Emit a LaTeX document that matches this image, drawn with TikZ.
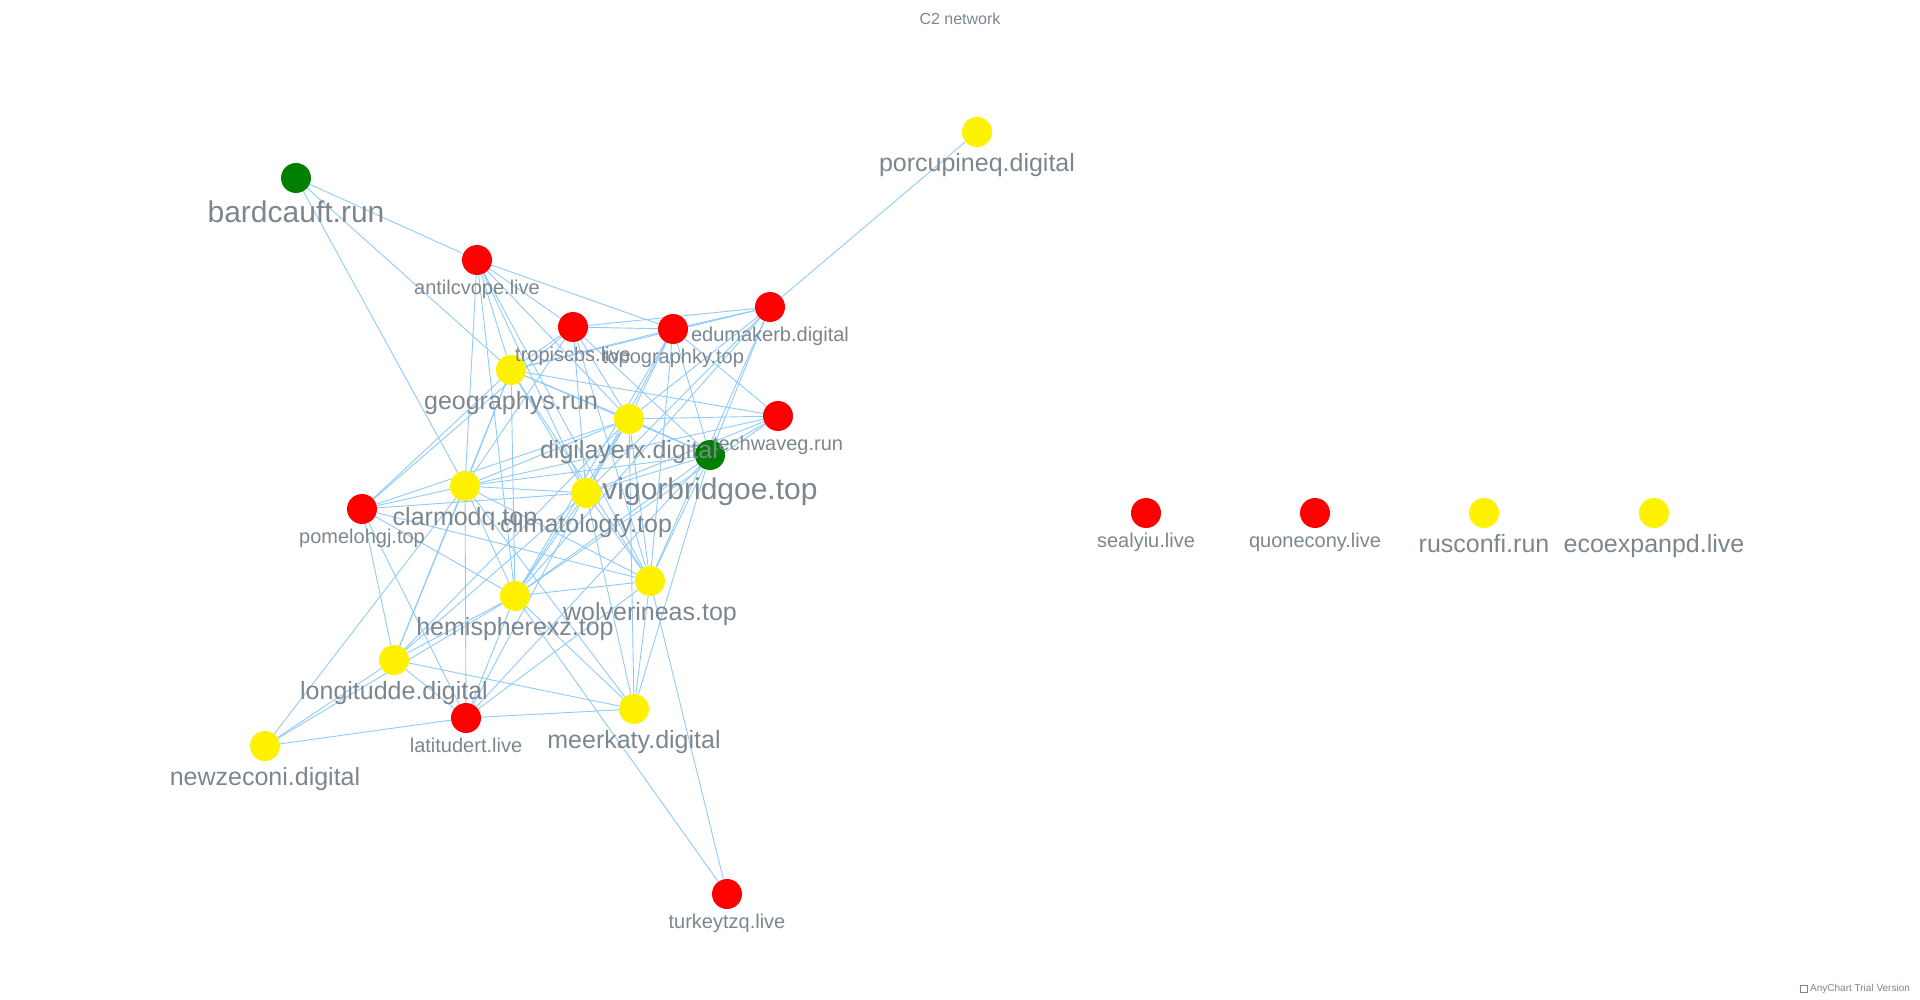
\documentclass[tikz,border=0pt]{standalone}
\usepackage{fontspec}
\setmainfont{Liberation Sans}
\usetikzlibrary{backgrounds}
\definecolor{lblgray}{HTML}{7C868E}
\definecolor{edgeblue}{HTML}{90CAF9}
\definecolor{dgreen}{HTML}{008000}

\tikzset{
	dot/.style={circle, fill=#1, minimum size=30pt, inner sep=0pt},
	lbl/.style={anchor=north, inner sep=0pt, text=lblgray, text height=0.75em, text depth=0.2em},
	lblS/.style={lbl, font=\fontsize{20}{20}\selectfont, yshift=-12pt},
	lblM/.style={lbl, font=\fontsize{25}{25}\selectfont, yshift=-17pt},
	lblL/.style={lbl, font=\fontsize{30}{30}\selectfont, yshift=-22pt},
	edge/.style={draw=edgeblue, line width=0.9pt}
}

\begin{document}
\begin{tikzpicture}[x=1pt,y=-1pt]
	\useasboundingbox (0,0) rectangle (1920,1000);
	\node[text=lblgray, font=\fontsize{16}{16}\selectfont] (title) at (960,19) {C2 network};
	% domains
	\foreach \n/\x/\y/\c in {bar/296/178/dgreen, por/977/132/yellow, ant/477/260/red,
		tro/573/327/red, topo/673/329/red, edu/770/307/red, geo/511/370/yellow,
		dig/629/419/yellow, tec/778/416/red, vig/710/455/dgreen, cla/465/486/yellow,
		cli/586/493/yellow, pom/362/509/red, hem/515/596/yellow, wol/650/581/yellow,
		lon/394/660/yellow, lat/466/718/red, mee/634/709/yellow, new/265/746/yellow,
		tur/727/894/red, sea/1146/513/red, quo/1315/513/red, rus/1484/513/yellow,
		eco/1654/513/yellow}
		\node[dot=\c] (\n) at (\x,\y) {};
	% labels on top of every dot
	\foreach \n/\s/\t in {bar/lblL/bardcauft.run, por/lblM/porcupineq.digital,
		ant/lblS/antilcvope.live, tro/lblS/tropiscbs.live, topo/lblS/topographky.top,
		edu/lblS/edumakerb.digital, geo/lblM/geographys.run, dig/lblM/digilayerx.digital,
		tec/lblS/techwaveg.run, vig/lblL/vigorbridgoe.top, cla/lblM/clarmodq.top,
		cli/lblM/climatologfy.top, pom/lblS/pomelohgj.top, hem/lblM/hemispherexz.top,
		wol/lblM/wolverineas.top, lon/lblM/longitudde.digital, lat/lblS/latitudert.live,
		mee/lblM/meerkaty.digital, new/lblM/newzeconi.digital, tur/lblS/turkeytzq.live,
		sea/lblS/sealyiu.live, quo/lblS/quonecony.live, rus/lblM/rusconfi.run,
		eco/lblM/ecoexpanpd.live}
		\node[\s] (\n-lbl) at (\n.south) {\t};
	% links
	\begin{pgfonlayer}{background}
	\foreach \a/\b in {bar/ant, bar/geo, bar/cla, por/edu,
		ant/tro, ant/topo, ant/geo, ant/cla, ant/hem, ant/dig, ant/cli, ant/wol,
		tro/topo, tro/edu, tro/geo, tro/dig, tro/cli, tro/vig, tro/wol, tro/cla, tro/pom,
		topo/edu, topo/geo, topo/dig, topo/cli, topo/vig, topo/tec, topo/hem, topo/wol,
		edu/dig, edu/vig, edu/cli, edu/hem, edu/wol, edu/geo,
		geo/cla, geo/cli, geo/dig, geo/tec, geo/vig, geo/hem, geo/pom, geo/lon, geo/wol,
		tec/dig, tec/vig, tec/cla, tec/cli, tec/hem,
		dig/vig, dig/cla, dig/cli, dig/hem, dig/wol, dig/lon, dig/mee, dig/pom,
		vig/cla, vig/cli, vig/hem, vig/wol, vig/mee, vig/lat,
		cla/cli, cla/pom, cla/hem, cla/lon, cla/lat, cla/wol, cla/mee, cla/new,
		cli/pom, cli/hem, cli/wol, cli/mee, cli/lon, cli/lat,
		pom/hem, pom/wol, pom/lon, pom/lat,
		hem/wol, hem/lon, hem/lat, hem/mee, hem/new, hem/tur,
		wol/mee, wol/lat, wol/tur,
		lon/lat, lon/mee, lon/new, lat/mee, lat/new}
		\draw[edge] (\a) -- (\b);
	\end{pgfonlayer}
	% trial mark
	\node[draw=lblgray, line width=0.5pt, minimum size=7pt, inner sep=0pt] (mark) at (1804,989) {};
	\node[anchor=west, text=lblgray, font=\fontsize{10}{10}\selectfont, inner sep=0pt] (trial) at (1810,989) {AnyChart Trial Version};
\end{tikzpicture}
\end{document}
